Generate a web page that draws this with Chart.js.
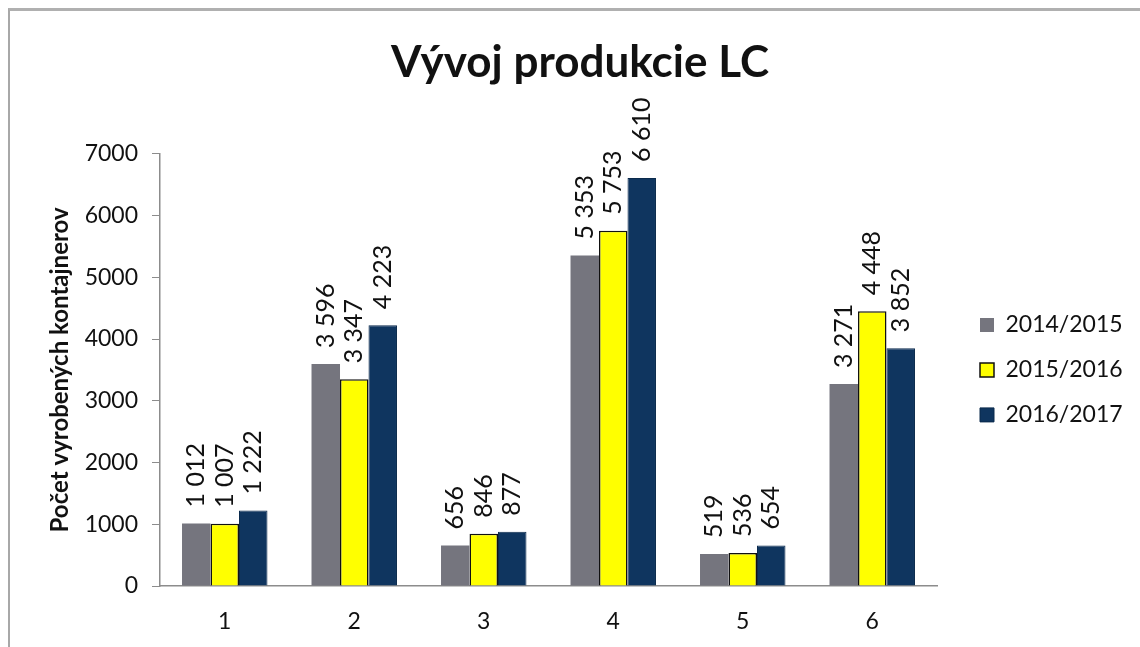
<!DOCTYPE html>
<html>
<head>
<meta charset="utf-8">
<title>Vývoj produkcie LC</title>
<script src="https://cdn.jsdelivr.net/npm/chart.js@4.4.1/dist/chart.umd.min.js"></script>
<style>
    html, body { margin: 0; padding: 0; background: #fff; }
    #wrap { position: relative; width: 1140px; height: 647px; overflow: hidden; }
    #frame { position: absolute; left: 8px; top: 8px; width: 1200px; height: 700px; border-left: 2px solid #a8a8a8; border-top: 3px solid #b0b0b0; }
    #productionChart { position: absolute; left: 0; top: 0; }
</style>
</head>
<body>
<div id="wrap">
    <div id="frame"></div>
    <canvas id="productionChart" width="1140" height="647"></canvas>
</div>
<script>
// Chart data
const categories = ['1', '2', '3', '4', '5', '6'];
const seriesNames = ['2014/2015', '2015/2016', '2016/2017'];
const values2014 = [1012, 3596, 656, 5353, 519, 3271];
const values2015 = [1007, 3347, 846, 5753, 536, 4448];
const values2016 = [1222, 4223, 877, 6610, 654, 3852];
const yTicks = [0, 1000, 2000, 3000, 4000, 5000, 6000, 7000];

const FONT = 'Lato, "Open Sans", sans-serif';

// format 1012 -> "1 012"
function spaced(v) {
    return String(v).replace(/\B(?=(\d{3})+(?!\d))/g, ' ');
}

// rotated value labels above each bar
const barLabels = {
    id: 'barLabels',
    afterDatasetsDraw(chart) {
        const ctx = chart.ctx;
        ctx.save();
        ctx.font = '25px ' + FONT;
        ctx.fillStyle = '#111';
        ctx.textAlign = 'left';
        ctx.textBaseline = 'middle';
        chart.data.datasets.forEach((ds, i) => {
            chart.getDatasetMeta(i).data.forEach((bar, j) => {
                ctx.save();
                ctx.translate(bar.x, bar.y - 16);
                ctx.rotate(-Math.PI / 2);
                ctx.fillText(spaced(ds.data[j]), 0, 0);
                ctx.restore();
            });
        });
        ctx.restore();
    }
};

// give the legend a fixed width, push its items right and centre them on the plot
const legendPlace = {
    id: 'legendPlace',
    beforeInit(chart) {
        const fit = chart.legend.fit;
        chart.legend.fit = function () {
            fit.call(this);
            this.width = 203;
        };
    },
    afterLayout(chart) {
        const lg = chart.legend;
        const area = chart.chartArea;
        const h = lg.bottom - lg.top;
        const mid = (area.top + area.bottom) / 2;
        lg.left += 21;
        lg.right += 21;
        lg.top = mid - h / 2;
        lg.bottom = mid + h / 2;
    }
};

const ctx = document.getElementById('productionChart').getContext('2d');
new Chart(ctx, {
    type: 'bar',
    data: {
        labels: categories,
        datasets: [
            { label: seriesNames[0], data: values2014, backgroundColor: '#75757e', borderColor: '#75757e', borderWidth: 0 },
            { label: seriesNames[1], data: values2015, backgroundColor: '#ffff00', borderColor: '#111111', borderWidth: 1.5 },
            { label: seriesNames[2], data: values2016, backgroundColor: '#0f355f', borderColor: '#0b2a4c', borderWidth: 1 },
        ],
    },
    options: {
        responsive: false,
        animation: false,
        layout: { padding: { left: 20, right: 0, top: 10, bottom: 0 } },
        datasets: {
            bar: { barPercentage: 1, categoryPercentage: 0.66 },
        },
        plugins: {
            title: {
                display: true,
                text: 'Vývoj produkcie LC',
                color: '#111',
                font: { family: FONT, size: 44, weight: 'bold' },
                padding: { top: 26, bottom: 65 },
            },
            legend: {
                position: 'right',
                labels: {
                    color: '#111',
                    font: { family: FONT, size: 23 },
                    boxWidth: 14,
                    boxHeight: 14,
                    padding: 22,
                },
            },
            tooltip: { enabled: false },
        },
        scales: {
            x: {
                afterFit(scale) { scale.height = 61; },
                grid: { display: false, drawTicks: false },
                border: { color: '#8c8c8c', width: 1.5 },
                ticks: { color: '#111', font: { family: FONT, size: 23 }, padding: 22 },
            },
            y: {
                min: 0,
                max: 7000,
                afterFit(scale) { scale.width = 140; },
                afterBuildTicks(scale) { scale.ticks = yTicks.map(v => ({ value: v })); },
                grid: { drawOnChartArea: false, drawTicks: true, tickLength: 8, color: '#8c8c8c' },
                border: { color: '#8c8c8c', width: 1.5 },
                ticks: {
                    color: '#111',
                    font: { family: FONT, size: 23 },
                    padding: 14,
                    callback: (v) => String(v),
                },
                title: {
                    display: true,
                    text: 'Počet vyrobených kontajnerov',
                    color: '#111',
                    font: { family: FONT, size: 24, weight: 'bold' },
                    padding: { top: 26, bottom: 0 },
                },
            },
        },
    },
    plugins: [barLabels, legendPlace],
});
</script>
</body>
</html>
